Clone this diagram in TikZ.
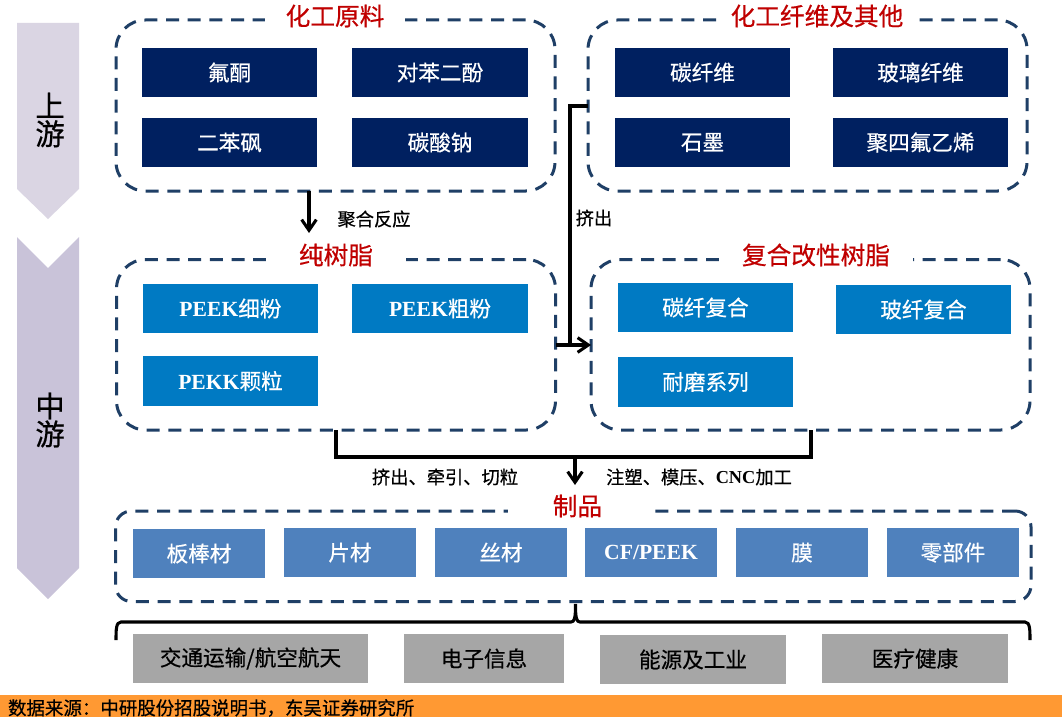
\documentclass[tikz,border=0pt]{standalone}
\usepackage{fontspec}
\setmainfont{Liberation Serif}
\newfontfamily\cjk[FakeBold=0.5]{Noto Sans CJK SC}
\usetikzlibrary{arrows.meta}
\definecolor{navyb}{HTML}{002060}
\definecolor{tealb}{HTML}{007AC3}
\definecolor{steelb}{HTML}{4F81BD}
\definecolor{grayb}{HTML}{A6A6A6}
\definecolor{dashc}{HTML}{1F3F66}
\definecolor{titlec}{HTML}{C00000}
\definecolor{orangeb}{HTML}{FF9933}
\definecolor{chevup}{HTML}{DAD5E3}
\definecolor{chevmid}{HTML}{C9C3D9}
\newcommand{\pbox}[7]{%
  \pgfmathsetmacro{\cxv}{(#3+#5)/2}%
  \pgfmathsetmacro{\cyv}{(#4+#6)/2}%
  \pgfmathsetmacro{\wv}{(#5-#3)*0.75}%
  \pgfmathsetmacro{\hv}{(#6-#4)*0.75}%
  \node[#1,minimum width=\wv pt,minimum height=\hv pt] (#2) at (\cxv,\cyv) {#7};}
\newcommand{\lat}[1]{{\rmfamily\bfseries #1}}
\tikzset{
  x=0.75pt,y=-0.75pt,
  every node/.style={inner sep=0pt,outer sep=0pt,font=\cjk},
  basebox/.style={draw=none,align=center,font=\cjk\fontsize{16.2}{18}\selectfont},
  navybox/.style={basebox,fill=navyb,text=white},
  tealbox/.style={basebox,fill=tealb,text=white},
  steelbox/.style={basebox,fill=steelb,text=white},
  graybox/.style={basebox,fill=grayb,text=black},
  panel/.style={draw=dashc,line width=2.25pt,dash pattern=on 9.75pt off 6.5pt,rounded corners=22pt},
  panelb/.style={panel,rounded corners=12pt},
  ptitle/.style={fill=white,text=titlec,minimum height=22pt,font=\cjk\fontsize{18.5}{20}\selectfont},
  note/.style={font=\cjk\fontsize{13.7}{15}\selectfont,text=black},
  conn/.style={draw=black,line width=2.3pt},
  flow/.style={conn,-{Straight Barb[length=8pt,width=11pt,line width=2.3pt]}},
  stage/.style={font=\cjk\fontsize{22}{24}\selectfont,text=black,align=center},
}
\begin{document}
\begin{tikzpicture}
\useasboundingbox (0,0) rectangle (1062,717);
\fill[white] (0,0) rectangle (1062,717);
% stage chevrons
\fill[chevup] (17,23) -- (79,23) -- (79,189) -- (48,219) -- (17,189) -- cycle;
\fill[chevmid] (17,237) -- (48,268) -- (79,237) -- (79,568) -- (48,599) -- (17,568) -- cycle;
\node[stage] (up) at (50,120) {上\\[-3pt]游};
\node[stage] (mid) at (50,420) {中\\[-3pt]游};
% panels
\pbox{panel}{tl}{116}{20}{555}{191}{}
\pbox{panel}{tr}{588}{20}{1027}{191}{}
\pbox{panel}{ml}{116.5}{259.5}{555.5}{430}{}
\pbox{panel}{mr}{591}{259.5}{1030}{430}{}
\pbox{panelb}{bt}{115.5}{511}{1031}{601.5}{}
% panel titles
\node[ptitle,minimum width=105pt] (ttl) at (335,16) {化工原料};
\node[ptitle,minimum width=146pt] (ttr) at (817,16) {化工纤维及其他};
\node[ptitle,minimum width=105pt] (tml) at (336,255) {纯树脂};
\node[ptitle,minimum width=145pt] (tmr) at (816,255) {复合改性树脂};
\node[ptitle,minimum width=104pt] (tbt) at (577.5,506) {制品\hspace{4pt}};
% upstream boxes
\pbox{navybox}{a1}{142}{48}{317}{97}{氟酮}
\pbox{navybox}{a2}{352}{48}{528}{97}{对苯二酚}
\pbox{navybox}{a3}{142}{118}{317}{167}{二苯砜}
\pbox{navybox}{a4}{352}{118}{528}{167}{碳酸钠}
\pbox{navybox}{b1}{615}{48}{790}{97}{碳纤维}
\pbox{navybox}{b2}{833}{48}{1008}{97}{玻璃纤维}
\pbox{navybox}{b3}{615}{118}{790}{167}{石墨}
\pbox{navybox}{b4}{833}{118}{1008}{167}{聚四氟乙烯}
% midstream boxes
\pbox{tealbox}{c1}{143}{284}{318}{333}{\lat{PEEK}细粉}
\pbox{tealbox}{c2}{352}{284}{528}{333}{\lat{PEEK}粗粉}
\pbox{tealbox}{c3}{143}{356}{318}{406}{\lat{PEKK}颗粒}
\pbox{tealbox}{d1}{618}{283}{793}{332}{碳纤复合}
\pbox{tealbox}{d2}{836}{285}{1011}{334}{玻纤复合}
\pbox{tealbox}{d3}{618}{357}{793}{407}{耐磨系列}
% products
\pbox{steelbox}{e1}{133}{529}{265}{578}{板棒材}
\pbox{steelbox}{e2}{284}{528}{416}{577}{片材}
\pbox{steelbox}{e3}{435}{528}{567}{577}{丝材}
\pbox{steelbox}{e4}{585}{528}{717}{577}{\lat{CF/PEEK}}
\pbox{steelbox}{e5}{736}{528}{868}{577}{膜}
\pbox{steelbox}{e6}{887}{528}{1019}{577}{零部件}
% applications
\pbox{graybox}{f1}{133}{634}{368}{683}{交通运输/航空航天}
\pbox{graybox}{f2}{404}{634}{564}{683}{电子信息}
\pbox{graybox}{f3}{600}{635}{786}{684}{能源及工业}
\pbox{graybox}{f4}{822}{634}{1008}{683}{医疗健康}
% connectors
\coordinate (p1) at (309,191);
\coordinate (p1e) at (309,233);
\draw[flow] (tl.south -| p1) -- (p1e);
\coordinate (q1) at (570,106);
\coordinate (q2) at (570,345);
\draw[conn] (tr.west |- q1) -- (q1) -- (q2);
\draw[flow] (ml.east |- q2) -- (mr.west |- q2);
\coordinate (r1) at (336,457);
\coordinate (r2) at (811,457);
\coordinate (r3) at (575,457);
\coordinate (r3e) at (575,485);
\draw[conn] (ml.south -| r1) -- (r1) -- (r2) -- (mr.south -| r2);
\draw[flow] (r3) -- (r3e);
% brace
\coordinate (bm) at (575.5,604);
\coordinate (bl) at (116,640);
\coordinate (br) at (1030,640);
\draw[conn] (bl) .. controls (116,630) and (116,622) .. (121,622) -- (571,622)
  .. controls (574.5,622) and (575.5,618) .. (bm)
  .. controls (575.5,618) and (576.5,622) .. (580,622) -- (1025,622)
  .. controls (1030,622) and (1030,630) .. (br);
% labels
\node[note] (n1) at (374,219) {聚合反应};
\node[note] (n2) at (594,218) {挤出};
\node[note] (n3) at (445,477) {挤出、牵引、切粒};
\node[note] (n4) at (699,477) {注塑、模压、\lat{CNC}加工};
% footer
\fill[orangeb] (0,695) rectangle (1062,717);
\node[note,anchor=west,font=\cjk\fontsize{13.85}{15}\selectfont] (src) at (8,708) {数据来源：中研股份招股说明书，东吴证券研究所};
\end{tikzpicture}
\end{document}
